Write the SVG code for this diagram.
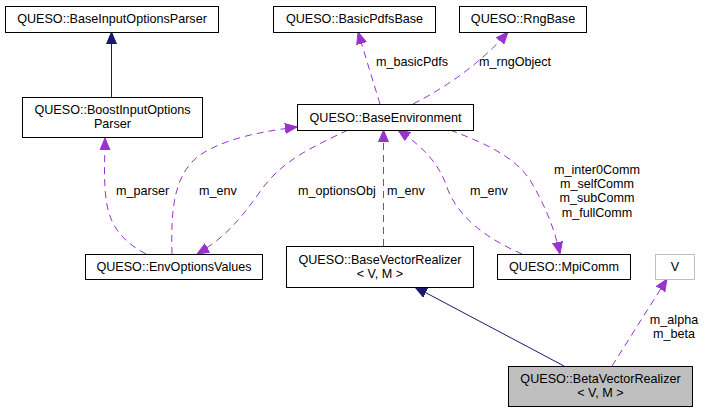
<svg xmlns="http://www.w3.org/2000/svg" width="705" height="413" viewBox="0 0 705 413">
<style>
text{font-family:"Liberation Sans",Arial,sans-serif;font-size:12.6px;fill:#000}
.n{text-anchor:middle}
.box{fill:#fff;stroke:#000;stroke-width:1}
.grey{fill:#fff;stroke:#bfbfbf;stroke-width:1}
.cur{fill:#bfbfbf;stroke:#000;stroke-width:1}
.inh{fill:none;stroke:#191970;stroke-width:1}
.use{fill:none;stroke:#9a32cd;stroke-width:1;stroke-dasharray:7,5}
</style>
<defs>
<marker id="ah" markerUnits="userSpaceOnUse" markerWidth="13" markerHeight="11" refX="12" refY="5" orient="auto" viewBox="0 0 13 10">
<path d="M0,0 L12,5 L0,10 z" fill="#191970" stroke="#191970"/>
</marker>
<marker id="ap" markerUnits="userSpaceOnUse" markerWidth="13" markerHeight="11" refX="12" refY="5" orient="auto" viewBox="0 0 13 10">
<path d="M0,0 L12,5 L0,10 z" fill="#9a32cd" stroke="#9a32cd"/>
</marker>
</defs>
<rect width="705" height="413" fill="#fff"/>
<g id="edges">
<path class="inh" d="M111.5,97 L111.5,32" marker-end="url(#ah)"/>
<path class="inh" d="M564,366 L415,287" marker-end="url(#ah)"/>
<path class="use" d="M380,104 L358,32" marker-end="url(#ap)"/>
<path class="use" d="M413,104 Q470,75 508,32" marker-end="url(#ap)"/>
<path class="use" d="M146,254 C125,243 111,228 107,205 C103,183 105,160 105,138" marker-end="url(#ap)"/>
<path class="use" d="M172,254 C171,215 172,175 200,155 C225,138 265,131 297,127" marker-end="url(#ap)"/>
<path class="use" d="M348,130 C310,148 285,160 265,185 C245,212 230,235 197,254" marker-end="url(#ap)"/>
<path class="use" d="M383.5,246 L383.5,130" marker-end="url(#ap)"/>
<path class="use" d="M522,254 C490,240 460,220 448,190 C440,165 425,148 398,130" marker-end="url(#ap)"/>
<path class="use" d="M450,130 C490,145 515,158 530,180 C545,205 555,230 560,254" marker-end="url(#ap)"/>
<path class="use" d="M612,366 L667,279" marker-end="url(#ap)"/>
<text x="376" y="66">m_basicPdfs</text>
<text x="479" y="66">m_rngObject</text>
<text x="116" y="195">m_parser</text>
<text x="199" y="195">m_env</text>
<text x="298" y="195">m_optionsObj</text>
<text x="387" y="195">m_env</text>
<text x="470" y="195">m_env</text>
<text class="n" x="597" y="173.5">m_inter0Comm</text>
<text class="n" x="597" y="187.5">m_selfComm</text>
<text class="n" x="597" y="202">m_subComm</text>
<text class="n" x="597" y="216.5">m_fullComm</text>
<text class="n" x="674" y="323.5">m_alpha</text>
<text class="n" x="674" y="337.5">m_beta</text>
</g>
<g id="BaseInputOptionsParser">
<rect class="box" x="5.5" y="6.5" width="213" height="26"/>
<text class="n" x="112" y="23">QUESO::BaseInputOptionsParser</text>
</g>
<g id="BasicPdfsBase">
<rect class="box" x="273.5" y="6.5" width="162" height="26"/>
<text class="n" x="354.5" y="23">QUESO::BasicPdfsBase</text>
</g>
<g id="RngBase">
<rect class="box" x="459.5" y="6.5" width="127" height="26"/>
<text class="n" x="523" y="23">QUESO::RngBase</text>
</g>
<g id="BoostInputOptionsParser">
<rect class="box" x="22.5" y="97.5" width="180" height="40"/>
<text class="n" x="112.5" y="113.5">QUESO::BoostInputOptions</text>
<text class="n" x="112.5" y="128">Parser</text>
</g>
<g id="BaseEnvironment">
<rect class="box" x="297.5" y="104.5" width="176" height="26"/>
<text class="n" x="385.5" y="121.5">QUESO::BaseEnvironment</text>
</g>
<g id="EnvOptionsValues">
<rect class="box" x="85.5" y="254.5" width="177" height="25"/>
<text class="n" x="174" y="270.5">QUESO::EnvOptionsValues</text>
</g>
<g id="BaseVectorRealizer">
<rect class="box" x="286.5" y="246.5" width="187" height="41"/>
<text class="n" x="380" y="263.5">QUESO::BaseVectorRealizer</text>
<text class="n" x="380" y="277.5">&lt; V, M &gt;</text>
</g>
<g id="MpiComm">
<rect class="box" x="497.5" y="254.5" width="133" height="25"/>
<text class="n" x="564" y="270.5">QUESO::MpiComm</text>
</g>
<g id="V">
<rect class="grey" x="655.5" y="254.5" width="39" height="25"/>
<text class="n" x="675" y="270.5">V</text>
</g>
<g id="BetaVectorRealizer">
<rect class="cur" x="508.5" y="366.5" width="184" height="40"/>
<text class="n" x="600.5" y="382.5">QUESO::BetaVectorRealizer</text>
<text class="n" x="600.5" y="396.5">&lt; V, M &gt;</text>
</g>
</svg>
